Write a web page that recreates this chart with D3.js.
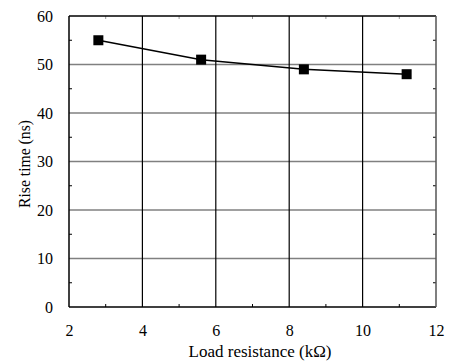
<!DOCTYPE html>
<html>
<head>
<meta charset="utf-8">
<script src="https://cdn.jsdelivr.net/npm/d3@7"></script>
<style>
  body { margin: 0; background: #fff; }
  svg text { font-family: 'Liberation Serif', 'Times New Roman', Times, 'DejaVu Serif', serif; fill: #000; }
</style>
</head>
<body>
<div id="chart"></div>
<script>
(function (d3) {
    'use strict';

    // Data
    var loadResistance = [2.8, 5.6, 8.4, 11.2];
    var riseTime = [55, 51, 49, 48];
    var xTicks = [2, 4, 6, 8, 10, 12];
    var yTicks = [0, 10, 20, 30, 40, 50, 60];
    var xMinorTicks = [3, 5, 7, 9, 11];
    var yMinorTicks = [5, 15, 25, 35, 45, 55];

    var margin = {top: 16, right: 16, bottom: 54, left: 69};
    var width = 452 - margin.left - margin.right;
    var height = 361 - margin.top - margin.bottom;

    var x = d3.scaleLinear().domain([2, 12]).range([0, width]);
    var y = d3.scaleLinear().domain([0, 60]).range([height, 0]);

    var svg = d3.select('#chart').append('svg')
        .attr('width', 452)
        .attr('height', 361);

    var vis = svg.append('g')
        .attr('transform', 'translate(' + margin.left + ',' + margin.top + ')');

    // Horizontal gridlines (grey)
    vis.append('g')
        .selectAll('line')
        .data(yTicks.slice(1, -1))
        .enter().append('line')
        .attr('x1', 0).attr('x2', width)
        .attr('y1', function (d) { return y(d); })
        .attr('y2', function (d) { return y(d); })
        .attr('stroke', '#808080')
        .attr('stroke-width', 1.3);

    // Vertical gridlines (black)
    vis.append('g')
        .selectAll('line')
        .data(xTicks.slice(1, -1))
        .enter().append('line')
        .attr('x1', function (d) { return x(d); })
        .attr('x2', function (d) { return x(d); })
        .attr('y1', 0).attr('y2', height)
        .attr('stroke', '#000')
        .attr('stroke-width', 1.2);

    // Minor ticks, pointing into the plot
    var tickLen = 3;
    vis.append('g').selectAll('line')
        .data(xMinorTicks)
        .enter().append('line')
        .attr('x1', function (d) { return x(d); })
        .attr('x2', function (d) { return x(d); })
        .attr('y1', height).attr('y2', height - tickLen)
        .attr('stroke', '#000');
    vis.append('g').selectAll('line')
        .data(xMinorTicks)
        .enter().append('line')
        .attr('x1', function (d) { return x(d); })
        .attr('x2', function (d) { return x(d); })
        .attr('y1', 0).attr('y2', tickLen)
        .attr('stroke', '#999');
    vis.append('g').selectAll('line')
        .data(yMinorTicks)
        .enter().append('line')
        .attr('x1', 0).attr('x2', tickLen)
        .attr('y1', function (d) { return y(d); })
        .attr('y2', function (d) { return y(d); })
        .attr('stroke', '#000');
    vis.append('g').selectAll('line')
        .data(yMinorTicks)
        .enter().append('line')
        .attr('x1', width - tickLen).attr('x2', width)
        .attr('y1', function (d) { return y(d); })
        .attr('y2', function (d) { return y(d); })
        .attr('stroke', '#000');

    // Plot frame
    vis.append('line').attr('x1', 0).attr('x2', width).attr('y1', 0).attr('y2', 0)
        .attr('stroke', '#000').attr('stroke-width', 1.5);
    vis.append('line').attr('x1', 0).attr('x2', width).attr('y1', height).attr('y2', height)
        .attr('stroke', '#000').attr('stroke-width', 1.5);
    vis.append('line').attr('x1', 0).attr('x2', 0).attr('y1', 0).attr('y2', height)
        .attr('stroke', '#000').attr('stroke-width', 1.5);
    vis.append('line').attr('x1', width).attr('x2', width).attr('y1', 0).attr('y2', height)
        .attr('stroke', '#555').attr('stroke-width', 1.5);

    // Axes (labels only, lines drawn above)
    var xAxis = vis.append('g')
        .attr('transform', 'translate(0,' + height + ')')
        .call(d3.axisBottom(x).tickValues(xTicks).tickSize(0).tickPadding(18));
    var yAxis = vis.append('g')
        .call(d3.axisLeft(y).tickValues(yTicks).tickSize(0).tickPadding(16));
    [xAxis, yAxis].forEach(function (a) {
        a.attr('font-family', null).attr('font-size', null);
        a.select('.domain').remove();
        a.selectAll('text')
            .style('font-size', '16px');
    });

    // Data line
    var valueLine = d3.line()
        .x(function (d, i) { return x(loadResistance[i]); })
        .y(function (d) { return y(d); });

    vis.append('path')
        .datum(riseTime)
        .attr('d', valueLine)
        .attr('fill', 'none')
        .attr('stroke', '#000')
        .attr('stroke-width', 1.5);

    var markerSize = 10;
    vis.append('g').selectAll('rect')
        .data(riseTime)
        .enter().append('rect')
        .attr('x', function (d, i) { return x(loadResistance[i]) - markerSize / 2; })
        .attr('y', function (d) { return y(d) - markerSize / 2; })
        .attr('width', markerSize)
        .attr('height', markerSize)
        .attr('fill', '#000');

    // Axis titles
    svg.append('text')
        .attr('x', 260)
        .attr('y', 357)
        .attr('text-anchor', 'middle')
        .style('font-size', '17px')
        .text('Load resistance (k\u03A9)');

    svg.append('text')
        .attr('transform', 'translate(30,164) rotate(-90)')
        .attr('text-anchor', 'middle')
        .style('font-size', '15.7px')
        .text('Rise time (ns)');

})(d3);
</script>
</body>
</html>
